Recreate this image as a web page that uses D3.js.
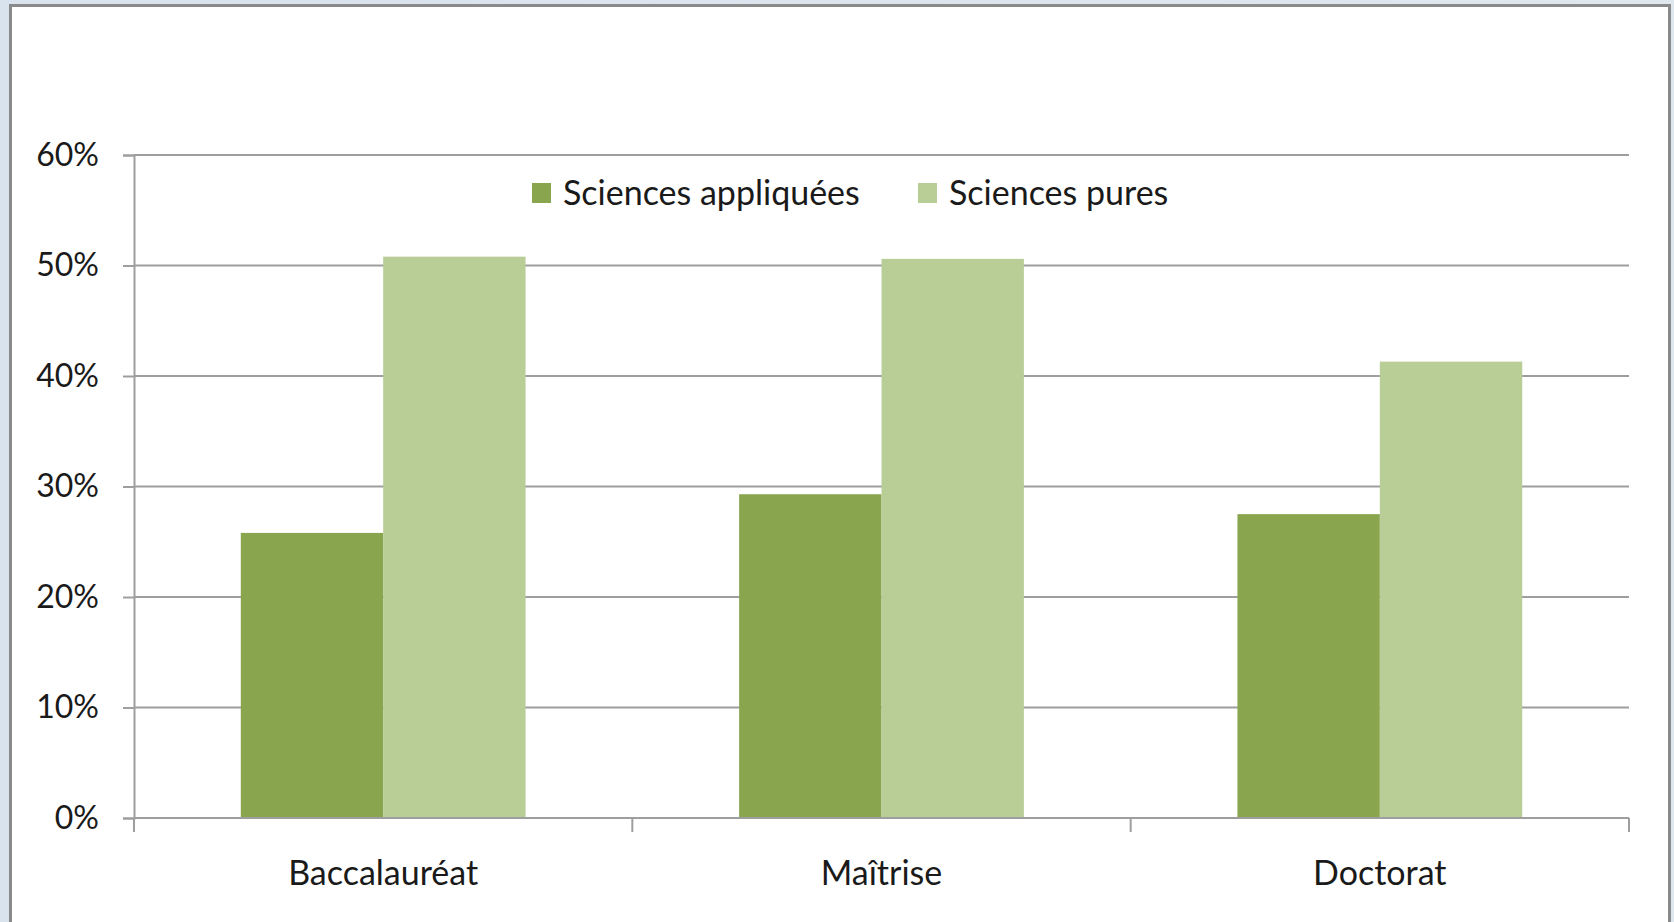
<!DOCTYPE html>
<html>
<head>
<meta charset="utf-8">
<script src="https://cdn.jsdelivr.net/npm/d3@7"></script>
<style>
    html, body { margin: 0; padding: 0; background: #dce5ee; }
    svg { display: block; }
    text { font-family: Lato, "Open Sans", sans-serif; fill: #1a1a1a; }
</style>
</head>
<body>
<div id="chart"></div>
<script>
const categories = ["Baccalauréat", "Maîtrise", "Doctorat"];
const seriesNames = ["Sciences appliquées", "Sciences pures"];
const appliedValues = [0.258, 0.293, 0.275];
const pureValues = [0.508, 0.506, 0.413];
const yTicks = [0, 0.1, 0.2, 0.3, 0.4, 0.5, 0.6];
const colors = ["#89a54e", "#b9cd96"];

document.addEventListener("DOMContentLoaded", function() {
    const width = 1674, height = 922;
    const margin = { left: 134, right: 45, top: 155, bottom: 104 };

    const svg = d3.select("#chart")
        .append("svg")
        .attr("width", width)
        .attr("height", height);

    // page background and white chart panel
    const bg = svg.append("defs").append("linearGradient")
        .attr("id", "bg").attr("x1", 0).attr("x2", 1).attr("y1", 0).attr("y2", 0);
    bg.append("stop").attr("offset", 0).attr("stop-color", "#d9e3ed");
    bg.append("stop").attr("offset", 1).attr("stop-color", "#dfe7ef");
    svg.append("rect").attr("width", width).attr("height", height).attr("fill", "url(#bg)");
    svg.append("rect")
        .attr("x", 10.5).attr("y", 5.5)
        .attr("width", 1659).attr("height", 940)
        .attr("fill", "#fff")
        .attr("stroke", "#8a8a8a")
        .attr("stroke-width", 3);

    const x0 = d3.scaleBand()
        .domain(categories)
        .range([margin.left, width - margin.right])
        .padding(0);

    const bw = x0.bandwidth();
    const gap = bw * 1.5 / 3.5; // gap width 150%
    const x1 = d3.scaleBand()
        .domain(seriesNames)
        .range([gap / 2, bw - gap / 2])
        .padding(0);

    const y = d3.scaleLinear()
        .domain([0, 0.6])
        .range([height - margin.bottom, margin.top]);

    // gridlines
    svg.append("g")
        .selectAll("line")
        .data(yTicks)
        .enter().append("line")
        .attr("x1", margin.left)
        .attr("x2", width - margin.right)
        .attr("y1", d => y(d))
        .attr("y2", d => y(d))
        .attr("stroke", "#9e9e9e")
        .attr("stroke-width", 2);

    // y axis
    const yAxis = svg.append("g")
        .attr("transform", `translate(${margin.left},0)`)
        .call(d3.axisLeft(y).tickValues(yTicks).tickFormat(d3.format(".0%")).tickSize(11).tickPadding(24));
    yAxis.select(".domain").attr("stroke", "#9e9e9e").attr("stroke-width", 2);
    yAxis.selectAll(".tick line").attr("stroke", "#9e9e9e").attr("stroke-width", 2);
    yAxis.selectAll(".tick text")
        .attr("font-size", 32)
        .attr("font-family", "Lato, sans-serif")
        .attr("fill", "#1a1a1a");

    // x axis ticks at category boundaries
    const bounds = categories.map(c => x0(c)).concat([x0.range()[1]]);
    svg.append("g")
        .selectAll("line")
        .data(bounds)
        .enter().append("line")
        .attr("x1", d => d).attr("x2", d => d)
        .attr("y1", y(0)).attr("y2", y(0) + 14)
        .attr("stroke", "#9e9e9e")
        .attr("stroke-width", 2);

    svg.append("g")
        .selectAll("text")
        .data(categories)
        .enter().append("text")
        .attr("x", d => x0(d) + bw / 2)
        .attr("y", 873)
        .attr("dy", "0.35em")
        .attr("text-anchor", "middle")
        .attr("font-size", 34)
        .text(d => d);

    // bars
    const data = categories.map((c, i) => ({
        cat: c,
        values: [
            { name: seriesNames[0], v: appliedValues[i] },
            { name: seriesNames[1], v: pureValues[i] }
        ]
    }));

    const groups = svg.append("g")
        .selectAll("g")
        .data(data)
        .enter().append("g")
        .attr("transform", d => `translate(${x0(d.cat)},0)`);

    groups.selectAll("rect")
        .data(d => d.values)
        .enter().append("rect")
        .attr("x", d => x1(d.name))
        .attr("width", x1.bandwidth())
        .attr("y", d => y(d.v))
        .attr("height", d => y(0) - y(d.v))
        .attr("fill", (d, i) => colors[i]);

    // redraw baseline over bars
    svg.append("line")
        .attr("x1", margin.left).attr("x2", width - margin.right)
        .attr("y1", y(0)).attr("y2", y(0))
        .attr("stroke", "#9e9e9e").attr("stroke-width", 2);

    // legend
    const legendX = [532, 918];
    const legend = svg.append("g")
        .selectAll("g")
        .data(seriesNames)
        .enter().append("g")
        .attr("transform", (d, i) => `translate(${legendX[i]},183)`);
    legend.append("rect")
        .attr("width", 19).attr("height", 20)
        .attr("fill", (d, i) => colors[i]);
    legend.append("text")
        .attr("x", 31).attr("y", 10)
        .attr("dy", "0.35em")
        .attr("font-size", 34)
        .text(d => d);
});
</script>
</body>
</html>
